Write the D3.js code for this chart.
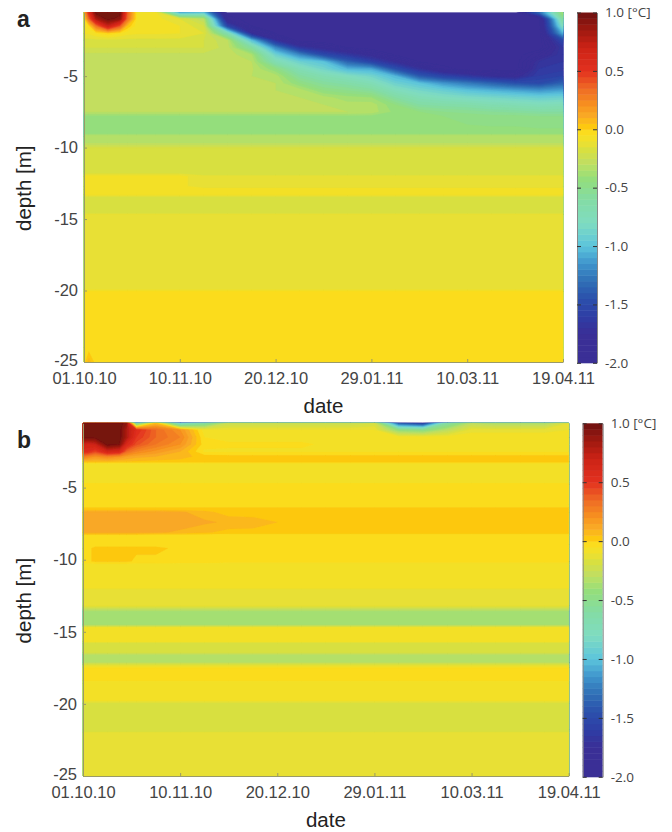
<html lang="en">
<head>
  <meta charset="UTF-8"/>
  <title>Temperature difference by depth and date</title>
  <script src="https://d3js.org/d3.v7.min.js"></script>
  <style>
    body { margin: 0; background: #fff; }
    text { font-family: "Liberation Sans", Arial, sans-serif; }
    .axis text { font-size: 16.5px; fill: #444; }
    .axis path, .axis line { stroke: #9a9a68; }
    .cbar text { font-family: "Open Sans", sans-serif; font-size: 13.5px; fill: #444; }
    .cbar path { stroke: #888; }
    .cbar line { stroke: #333; }
    .title { font-size: 20.5px; fill: #222; }
    .letter { font-size: 23px; font-weight: bold; fill: #222; }
  </style>
</head>
<body>
  <svg width="672" height="832">
    <defs>
      <filter id="soft" x="-2%" y="-2%" width="104%" height="104%"><feGaussianBlur stdDeviation="0.7"/></filter>
    </defs>
  </svg>

  <script>

  // days since 01.10.10 for each column of the value tables
  const days = [0, 2, 5, 10, 15, 18, 22, 30, 40, 50, 60, 70, 80, 90, 100, 110, 120, 130, 140, 150, 160, 170, 180, 190, 200];

  const tickDays = [0, 40, 80, 120, 160, 200];
  const tickDates = ['01.10.10', '10.11.10', '20.12.10', '29.01.11', '10.03.11', '19.04.11'];
  const tickDepths = [-5, -10, -15, -20, -25];
  const cbarTicks = [1, 0.5, 0, -0.5, -1, -1.5, -2];
  const cbarLabels = ['1.0 [°C]', '0.5', '0.0', '-0.5', '-1.0', '-1.5', '-2.0'];

  const depthsA = [-.55, -1, -1.5, -2, -2.5, -3, -3.5, -4, -4.5, -5, -5.5, -6, -6.5, -7, -7.5, -7.8, -9, -9.2, -9.7, -10, -11.7, -12, -12.7, -12.9, -13.3, -13.5, -14.5, -14.7, -19.9, -20.1, -24, -25];
  const valuesA = [
    [.1,.55,1,1,1,.4,-.05,-.08,-1.1,-1,-2,-2,-2,-2,-2,-2,-2,-2,-2,-2,-2,-2,-2,-1.3,-.35],
    [-.05,.35,.8,1,.9,.35,-.05,-.08,-.15,-.3,-1.9,-2,-2,-2,-2,-2,-2,-2,-2,-2,-2,-2,-2,-2,-.55],
    [-.08,-.03,.3,.7,.4,.05,-.08,-.09,-.1,-.2,-1.55,-1.95,-2,-2,-2,-2,-2,-2,-2,-2,-2,-2,-2,-2,-.75],
    [-.09,-.09,-.05,0,-.05,-.08,-.09,-.09,-.1,-.15,-.7,-1.75,-1.95,-2,-2,-2,-2,-2,-2,-2,-2,-2,-2,-2,-1.05],
    [-.17,-.17,-.17,-.17,-.17,-.17,-.17,-.17,-.17,-.2,-.3,-1,-1.7,-2,-2,-2,-2,-2,-2,-2,-2,-2,-2,-2,-1.5],
    [-.2,-.2,-.2,-.2,-.2,-.2,-.2,-.2,-.2,-.2,-.28,-.6,-1.2,-1.65,-1.8,-1.95,-2,-2,-2,-2,-2,-2,-2,-2,-1.65],
    [-.27,-.27,-.27,-.27,-.27,-.27,-.27,-.27,-.27,-.27,-.27,-.35,-.9,-1.2,-1.5,-1.65,-1.8,-1.95,-2,-2,-2,-2,-2,-1.85,-1.65],
    [-.29,-.29,-.29,-.29,-.29,-.29,-.29,-.29,-.29,-.29,-.29,-.3,-.7,-.9,-1,-1.35,-1.55,-1.75,-1.95,-2,-2,-2,-2,-1.7,-1.65],
    [-.29,-.29,-.29,-.29,-.29,-.29,-.29,-.29,-.29,-.29,-.29,-.29,-.45,-.72,-.87,-1.05,-1.08,-1.45,-1.7,-1.9,-2,-2,-2,-1.65,-1.62],
    [-.3,-.3,-.3,-.3,-.3,-.3,-.3,-.3,-.3,-.3,-.3,-.3,-.32,-.58,-.7,-.78,-.87,-1.05,-1.4,-1.55,-1.65,-1.75,-1.8,-1.6,-1.55],
    [-.3,-.3,-.3,-.3,-.3,-.3,-.3,-.3,-.3,-.3,-.3,-.3,-.3,-.45,-.57,-.63,-.72,-.9,-1,-1.15,-1.25,-1.35,-1.45,-1.5,-1.35],
    [-.3,-.3,-.3,-.3,-.3,-.3,-.3,-.3,-.3,-.3,-.3,-.3,-.3,-.32,-.45,-.5,-.57,-.75,-.85,-.92,-1,-1.05,-1.1,-1.15,-1.1],
    [-.3,-.3,-.3,-.3,-.3,-.3,-.3,-.3,-.3,-.3,-.3,-.3,-.3,-.3,-.33,-.38,-.4,-.6,-.72,-.78,-.82,-.85,-.88,-.92,-.9],
    [-.3,-.3,-.3,-.3,-.3,-.3,-.3,-.3,-.3,-.3,-.3,-.3,-.3,-.3,-.3,-.33,-.32,-.45,-.6,-.63,-.65,-.7,-.72,-.75,-.73],
    [-.3,-.3,-.3,-.3,-.3,-.3,-.3,-.3,-.3,-.3,-.3,-.3,-.3,-.3,-.3,-.3,-.32,-.42,-.45,-.5,-.52,-.55,-.57,-.6,-.6],
    [-.42,-.42,-.42,-.42,-.42,-.42,-.42,-.42,-.42,-.42,-.42,-.42,-.42,-.42,-.42,-.42,-.42,-.42,-.42,-.45,-.47,-.48,-.48,-.5,-.5],
    [-.43,-.43,-.43,-.43,-.43,-.43,-.43,-.43,-.43,-.43,-.43,-.43,-.43,-.43,-.43,-.43,-.43,-.43,-.43,-.43,-.43,-.43,-.43,-.43,-.43],
    [-.32,-.32,-.32,-.32,-.32,-.32,-.32,-.32,-.32,-.32,-.32,-.32,-.32,-.32,-.32,-.32,-.32,-.32,-.32,-.32,-.32,-.32,-.32,-.32,-.32],
    [-.3,-.3,-.3,-.3,-.3,-.3,-.3,-.3,-.3,-.3,-.3,-.3,-.3,-.3,-.3,-.3,-.3,-.3,-.3,-.3,-.3,-.3,-.3,-.3,-.3],
    [-.2,-.2,-.2,-.2,-.2,-.2,-.2,-.2,-.2,-.2,-.2,-.2,-.2,-.2,-.2,-.2,-.2,-.2,-.2,-.2,-.2,-.2,-.2,-.2,-.2],
    [-.2,-.2,-.2,-.2,-.2,-.2,-.2,-.2,-.2,-.2,-.2,-.2,-.2,-.2,-.2,-.2,-.2,-.2,-.2,-.2,-.2,-.2,-.2,-.2,-.2],
    [-.08,-.08,-.08,-.08,-.08,-.08,-.08,-.08,-.08,-.14,-.14,-.14,-.14,-.14,-.14,-.14,-.14,-.14,-.14,-.14,-.14,-.14,-.14,-.14,-.14],
    [-.08,-.08,-.08,-.08,-.08,-.08,-.08,-.08,-.08,-.14,-.14,-.14,-.14,-.14,-.14,-.14,-.14,-.14,-.14,-.14,-.14,-.14,-.14,-.14,-.14],
    [-.08,-.08,-.08,-.08,-.08,-.08,-.08,-.08,-.08,-.08,-.08,-.08,-.08,-.08,-.08,-.08,-.08,-.08,-.08,-.08,-.08,-.08,-.08,-.08,-.08],
    [-.08,-.08,-.08,-.08,-.08,-.08,-.08,-.08,-.08,-.08,-.08,-.08,-.08,-.08,-.08,-.08,-.08,-.08,-.08,-.08,-.08,-.08,-.08,-.08,-.08],
    [-.2,-.2,-.2,-.2,-.2,-.2,-.2,-.2,-.2,-.2,-.2,-.2,-.2,-.2,-.2,-.2,-.2,-.2,-.2,-.2,-.2,-.2,-.2,-.2,-.2],
    [-.2,-.2,-.2,-.2,-.2,-.2,-.2,-.2,-.2,-.2,-.2,-.2,-.2,-.2,-.2,-.2,-.2,-.2,-.2,-.2,-.2,-.2,-.2,-.2,-.2],
    [-.12,-.12,-.12,-.12,-.12,-.12,-.12,-.12,-.12,-.12,-.12,-.12,-.12,-.12,-.12,-.12,-.12,-.12,-.12,-.12,-.12,-.12,-.12,-.12,-.12],
    [-.12,-.12,-.12,-.12,-.12,-.12,-.12,-.12,-.12,-.12,-.12,-.12,-.12,-.12,-.12,-.12,-.12,-.12,-.12,-.12,-.12,-.12,-.12,-.12,-.12],
    [-.03,-.03,-.03,-.03,-.03,-.03,-.03,-.03,-.03,-.03,-.03,-.03,-.03,-.03,-.03,-.03,-.03,-.03,-.03,-.03,-.03,-.03,-.03,-.03,-.03],
    [-.03,-.03,-.03,-.03,-.03,-.03,-.03,-.03,-.03,-.03,-.03,-.03,-.03,-.03,-.03,-.03,-.03,-.03,-.03,-.03,-.03,-.03,-.03,-.03,-.03],
    [-.03,.08,-.03,-.03,-.03,-.03,-.03,-.03,-.03,-.03,-.03,-.03,-.03,-.03,-.03,-.03,-.03,-.03,-.03,-.03,-.03,-.03,-.03,-.03,-.03]
  ];

  const depthsB = [-.54, -1, -1.5, -2, -2.5, -2.85, -3.2, -3.35, -4.6, -4.8, -6.2, -6.5, -6.7, -7.4, -8.1, -8.3, -8.95, -9.2, -10.1, -10.3, -12, -13.2, -13.6, -14.5, -14.7, -15.7, -15.8, -16.45, -16.6, -17.1, -17.3, -17.5, -18.4, -18.6, -19.8, -20, -21.8, -22, -25];
  const valuesB = [
    [1,1,1,1,1,.9,-.7,.05,-.9,-.6,-.25,-.25,-.25,-.25,-.25,-.25,-.2,-1.4,-1.6,-.6,-.3,-.35,-.35,-.35,-.15],
    [1,1,1,1,1,.8,.55,.35,.2,-.08,-.1,-.1,-.1,-.1,-.1,-.1,-.1,-.45,-.5,-.3,-.12,-.12,-.12,-.12,-.1],
    [1,1,1,1,1,.8,.5,.35,.25,-.05,-.07,-.07,-.07,-.07,-.07,-.07,-.07,-.07,-.07,-.07,-.07,-.07,-.07,-.07,-.07],
    [.7,.65,.7,1,.95,.6,.42,.3,.2,-.03,-.04,-.04,-.04,-.04,-.06,-.06,-.06,-.06,-.06,-.06,-.06,-.06,-.06,-.06,-.06],
    [.55,.55,.45,.65,.6,.35,.25,.18,.1,-.06,-.06,-.06,-.06,-.06,-.06,-.06,-.06,-.06,-.06,-.06,-.06,-.06,-.06,-.06,-.06],
    [.3,.25,.2,.25,.2,.15,.12,.1,.07,.03,.02,.02,.02,.02,.02,.02,.02,.02,.02,.02,.02,.02,.02,.02,.02],
    [.05,.05,.05,.05,.04,.04,.04,.03,.03,.02,.02,.02,.02,.02,.02,.02,.02,.02,.02,.02,.02,.02,.02,.02,.02],
    [-.07,-.07,-.07,-.07,-.07,-.07,-.07,-.07,-.07,-.07,-.07,-.07,-.07,-.07,-.07,-.07,-.07,-.07,-.07,-.07,-.07,-.07,-.07,-.07,-.07],
    [-.07,-.07,-.07,-.07,-.07,-.07,-.07,-.07,-.07,-.07,-.07,-.07,-.07,-.07,-.07,-.07,-.07,-.07,-.07,-.07,-.07,-.07,-.07,-.07,-.07],
    [-.03,-.03,-.03,-.03,-.03,-.03,-.03,-.03,-.03,-.03,-.03,-.03,-.03,-.03,-.03,-.03,-.03,-.03,-.03,-.03,-.03,-.03,-.03,-.03,-.03],
    [-.03,-.03,-.03,-.03,-.03,-.03,-.03,-.03,-.03,-.03,-.03,-.03,-.03,-.03,-.03,-.03,-.03,-.03,-.03,-.03,-.03,-.03,-.03,-.03,-.03],
    [.02,.02,.02,.02,.02,.02,.02,.02,.02,.02,.02,.02,.02,.02,.02,.02,.02,.02,.02,.02,.02,.02,.02,.02,.02],
    [.12,.12,.12,.12,.12,.12,.12,.12,.11,.07,.02,.02,.02,.02,.02,.02,.02,.02,.02,.02,.02,.02,.02,.02,.02],
    [.13,.13,.13,.13,.13,.13,.13,.13,.13,.11,.09,.08,.05,.03,.03,.03,.03,.03,.03,.03,.03,.03,.03,.03,.03],
    [.13,.13,.13,.13,.13,.13,.13,.11,.09,.06,.03,.03,.03,.03,.03,.03,.03,.03,.03,.03,.03,.03,.03,.03,.03],
    [-.03,-.03,-.03,-.03,-.03,-.03,-.03,-.03,-.03,-.03,-.03,-.03,-.03,-.03,-.03,-.03,-.03,-.03,-.03,-.03,-.03,-.03,-.03,-.03,-.03],
    [-.03,-.03,-.03,-.03,-.03,-.03,-.03,-.03,-.03,-.03,-.03,-.03,-.03,-.03,-.03,-.03,-.03,-.03,-.03,-.03,-.03,-.03,-.03,-.03,-.03],
    [-.03,-.02,.02,.02,.02,.02,.02,.02,-.02,-.03,-.04,-.04,-.04,-.04,-.04,-.04,-.04,-.04,-.04,-.04,-.04,-.04,-.04,-.04,-.04],
    [-.03,-.02,.02,.02,.02,.02,-.02,-.02,-.03,-.03,-.04,-.04,-.04,-.04,-.04,-.04,-.04,-.04,-.04,-.04,-.04,-.04,-.04,-.04,-.04],
    [-.06,-.06,-.06,-.06,-.06,-.06,-.06,-.06,-.06,-.06,-.06,-.06,-.06,-.06,-.06,-.06,-.06,-.06,-.06,-.06,-.06,-.06,-.06,-.06,-.06],
    [-.1,-.1,-.1,-.1,-.1,-.1,-.1,-.1,-.1,-.1,-.1,-.1,-.1,-.1,-.1,-.1,-.1,-.1,-.1,-.1,-.1,-.1,-.1,-.1,-.1],
    [-.13,-.13,-.13,-.13,-.13,-.13,-.13,-.13,-.13,-.13,-.13,-.13,-.13,-.13,-.13,-.13,-.13,-.13,-.13,-.13,-.13,-.13,-.13,-.13,-.13],
    [-.38,-.38,-.38,-.38,-.38,-.38,-.38,-.38,-.38,-.38,-.38,-.38,-.38,-.38,-.38,-.38,-.38,-.38,-.38,-.38,-.38,-.38,-.38,-.38,-.38],
    [-.38,-.38,-.38,-.38,-.38,-.38,-.38,-.38,-.38,-.38,-.38,-.38,-.38,-.38,-.38,-.38,-.38,-.38,-.38,-.38,-.38,-.38,-.38,-.38,-.38],
    [-.1,-.1,-.1,-.1,-.1,-.1,-.1,-.1,-.1,-.1,-.1,-.1,-.1,-.1,-.1,-.1,-.1,-.1,-.1,-.1,-.1,-.1,-.1,-.1,-.1],
    [-.1,-.1,-.1,-.1,-.1,-.1,-.1,-.1,-.1,-.1,-.1,-.1,-.1,-.1,-.1,-.1,-.1,-.1,-.1,-.1,-.1,-.1,-.1,-.1,-.1],
    [-.2,-.2,-.2,-.2,-.2,-.2,-.2,-.2,-.2,-.2,-.2,-.2,-.2,-.2,-.2,-.2,-.2,-.2,-.2,-.2,-.2,-.2,-.2,-.2,-.2],
    [-.2,-.2,-.2,-.2,-.2,-.2,-.2,-.2,-.2,-.2,-.2,-.2,-.2,-.2,-.2,-.2,-.2,-.2,-.2,-.2,-.2,-.2,-.2,-.2,-.2],
    [-.33,-.33,-.33,-.33,-.33,-.33,-.33,-.33,-.33,-.33,-.33,-.33,-.33,-.33,-.33,-.33,-.33,-.33,-.33,-.33,-.33,-.33,-.33,-.33,-.33],
    [-.33,-.33,-.33,-.33,-.33,-.33,-.33,-.33,-.33,-.33,-.33,-.33,-.33,-.33,-.33,-.33,-.33,-.33,-.33,-.33,-.33,-.33,-.33,-.33,-.33],
    [-.15,-.15,-.15,-.15,-.15,-.15,-.15,-.15,-.15,-.15,-.15,-.15,-.15,-.15,-.15,-.15,-.15,-.15,-.15,-.15,-.15,-.15,-.15,-.15,-.15],
    [-.05,-.05,-.05,-.05,-.05,-.05,-.05,-.05,-.05,-.05,-.05,-.05,-.05,-.05,-.05,-.05,-.05,-.05,-.05,-.05,-.05,-.05,-.05,-.05,-.05],
    [-.05,-.05,-.05,-.05,-.05,-.05,-.05,-.05,-.05,-.05,-.05,-.05,-.05,-.05,-.05,-.05,-.05,-.05,-.05,-.05,-.05,-.05,-.05,-.05,-.05],
    [-.1,-.1,-.1,-.1,-.1,-.1,-.1,-.1,-.1,-.1,-.1,-.1,-.1,-.1,-.1,-.1,-.1,-.1,-.1,-.1,-.1,-.1,-.1,-.1,-.1],
    [-.1,-.1,-.1,-.1,-.1,-.1,-.1,-.1,-.1,-.1,-.1,-.1,-.1,-.1,-.1,-.1,-.1,-.1,-.1,-.1,-.1,-.1,-.1,-.1,-.1],
    [-.2,-.2,-.2,-.2,-.2,-.2,-.2,-.2,-.2,-.2,-.2,-.2,-.2,-.2,-.2,-.2,-.2,-.2,-.2,-.2,-.2,-.2,-.2,-.2,-.2],
    [-.2,-.2,-.2,-.2,-.2,-.2,-.2,-.2,-.2,-.2,-.2,-.2,-.2,-.2,-.2,-.2,-.2,-.2,-.2,-.2,-.2,-.2,-.2,-.2,-.2],
    [-.14,-.14,-.14,-.14,-.14,-.14,-.14,-.14,-.14,-.14,-.14,-.14,-.14,-.14,-.14,-.14,-.14,-.14,-.14,-.14,-.14,-.14,-.14,-.14,-.14],
    [-.14,-.14,-.14,-.14,-.14,-.14,-.14,-.14,-.14,-.14,-.14,-.14,-.14,-.14,-.14,-.14,-.14,-.14,-.14,-.14,-.14,-.14,-.14,-.14,-.14]
  ];

  const paletteStops = [-2, -1.75, -1.6, -1.45, -1.3, -1.15, -1, -.8, -.6, -.425, -.325, -.275, -.175, -.125, -.075, -.025, .025, .125, .2, .35, .5, .7, .85, 1];
  const paletteColors = ['#3a2f96', '#3a2f96', '#2e3ea5', '#2c50ac', '#2f6fb5', '#3f94cc', '#5cc4dc', '#7fdcc0', '#84dca4', '#94de7c', '#b4e068', '#c3de5e', '#d8e040', '#e8e034', '#f3e028', '#fbdc1e', '#fdc810', '#f9a825', '#f7941f', '#ef6b25', '#e3311f', '#cc2316', '#a01a10', '#6e1010'];

  const svg = d3.select('svg');
  const color = d3.scaleLinear().domain(paletteStops).range(paletteColors);
  const levels = d3.range(-40, 20).map((i) => i * 0.05);
  const levelColor = (t) => color(t + 0.025);

  function drawPanel(p) {
    const x = d3.scaleLinear().domain([0, 200]).range([p.x0, p.x1]);
    const y = d3.scaleLinear().domain([p.depths[0], -25]).range([p.y0, p.y1]);

    // d3.contours works in cell units, so turn them back into days and depths
    const dayAt = d3.scaleLinear().domain(days.map((d, i) => i + 0.5)).range(days).clamp(true);
    const depthAt = d3.scaleLinear().domain(p.depths.map((d, i) => i + 0.5)).range(p.depths).clamp(true);
    const path = d3.geoPath(d3.geoTransform({
      point(cx, cy) { this.stream.point(x(dayAt(cx)), y(depthAt(cy))); }
    }));

    const contours = d3.contours()
      .size([days.length, p.depths.length])
      .thresholds(levels)(p.values.flat());

    svg.append('g')
      .attr('filter', 'url(#soft)')
      .selectAll('path')
      .data(contours)
      .join('path')
      .attr('d', path)
      .attr('fill', (c) => levelColor(c.value))
      .attr('stroke', (c) => levelColor(c.value))
      .attr('stroke-width', 0.3);

    svg.append('g')
      .attr('class', 'axis')
      .attr('transform', `translate(0, ${p.y1})`)
      .call(d3.axisBottom(x).tickValues(tickDays).tickFormat((d, i) => tickDates[i]).tickSizeInner(-3).tickSizeOuter(0).tickPadding(10));

    svg.append('g')
      .attr('class', 'axis')
      .attr('transform', `translate(${p.x0}, 0)`)
      .call(d3.axisLeft(y).tickValues(tickDepths).tickFormat((d) => d).tickSizeInner(-3).tickSizeOuter(0).tickPadding(6))
      .selectAll('text')
      .filter((d) => d === -25)
      .attr('y', -2);

    svg.append('text')
      .attr('class', 'title')
      .attr('x', (p.x0 + p.x1) / 2)
      .attr('y', p.y1 + 50.5)
      .attr('text-anchor', 'middle')
      .text('date');

    svg.append('text')
      .attr('class', 'title')
      .attr('transform', `translate(31, ${(p.y0 + p.y1) / 2 + 1}) rotate(-90)`)
      .attr('text-anchor', 'middle')
      .text('depth [m]');

    svg.append('text')
      .attr('class', 'letter')
      .attr('x', 17)
      .attr('y', p.letterY)
      .text(p.letter);

    // colour bar
    const c = d3.scaleLinear().domain([1, -2]).range([p.y0, p.y1 + 0.8]);
    svg.append('g')
      .selectAll('rect')
      .data(levels)
      .join('rect')
      .attr('x', p.cx0)
      .attr('width', 20)
      .attr('y', (t) => c(t + 0.05))
      .attr('height', (t) => c(t) - c(t + 0.05) + 0.5)
      .attr('fill', levelColor);

    svg.append('g')
      .attr('class', 'cbar')
      .attr('transform', `translate(${p.cx0 + 20}, 0)`)
      .call(d3.axisRight(c).tickValues(cbarTicks).tickFormat((d, i) => cbarLabels[i]).tickSizeInner(-4).tickSizeOuter(0).tickPadding(8));

    svg.append('g')
      .attr('class', 'cbar')
      .attr('transform', `translate(${p.cx0}, 0)`)
      .call(d3.axisLeft(c).tickValues(cbarTicks).tickFormat('').tickSizeInner(-4).tickSizeOuter(0));
  }

  drawPanel({ letter: 'a', letterY: 27, depths: depthsA, values: valuesA, x0: 84, x1: 563, y0: 12.5, y1: 362, cx0: 577 });
  drawPanel({ letter: 'b', letterY: 448, depths: depthsB, values: valuesB, x0: 83, x1: 568.7, y0: 423.3, y1: 776, cx0: 582.7 });

  </script>
</body>
</html>
